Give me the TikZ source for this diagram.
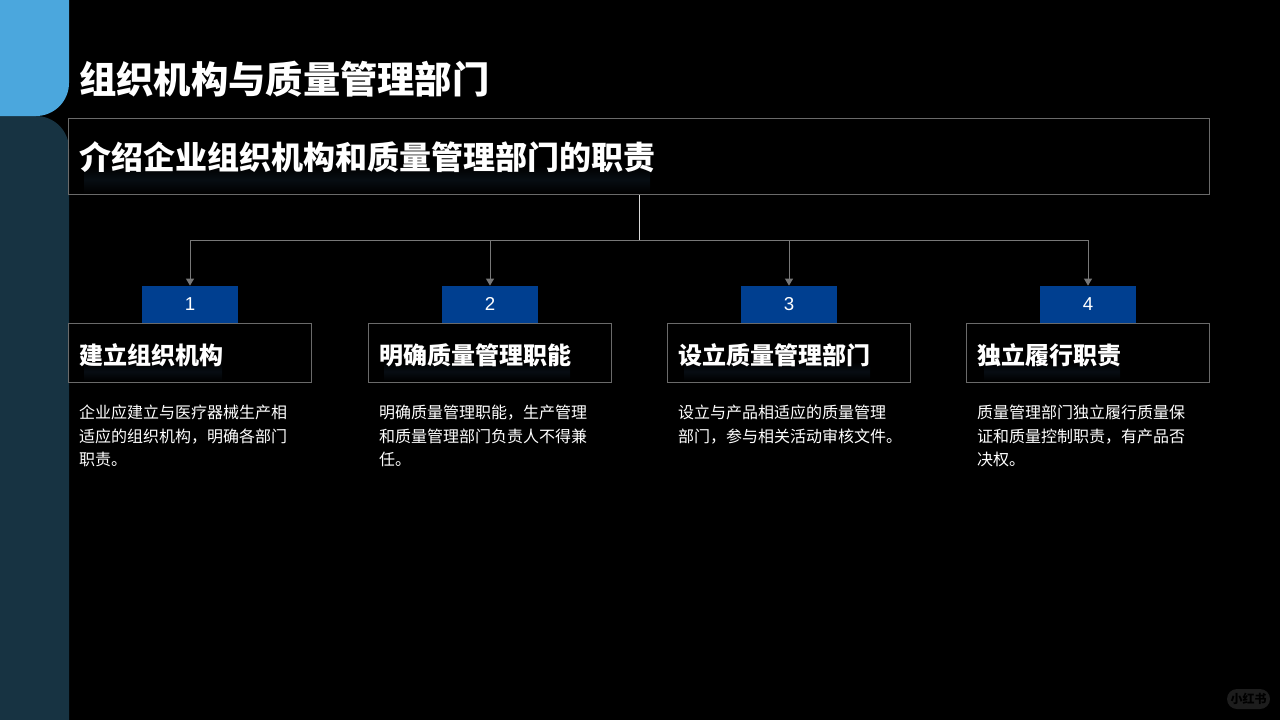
\documentclass[tikz,border=0pt]{standalone}
\usepackage{fontspec}
\setmainfont{Noto Sans CJK SC}
\newfontfamily\numfont{Liberation Sans}
\usetikzlibrary{arrows.meta}
\definecolor{panelblue}{HTML}{4BA7DD}
\definecolor{panelteal}{HTML}{173342}
\definecolor{numblue}{HTML}{003F90}
\definecolor{edgegray}{HTML}{6A6A6A}
\definecolor{linkgray}{HTML}{787878}
\definecolor{glowblue}{HTML}{070D13}
\definecolor{markgray}{HTML}{1D1D1D}
\tikzset{
  headbox/.style={draw=edgegray,line width=1pt,anchor=north west,inner xsep=11pt,inner ysep=0pt,align=left,text=white},
  numbox/.style={fill=numblue,minimum width=96pt,minimum height=37pt,inner sep=0pt,anchor=south,text=white,font=\numfont\fontsize{18.7}{24}\selectfont},
  bodytext/.style={anchor=north west,inner sep=0pt,align=left,text=white,font=\fontsize{16}{23.6}\selectfont},
  glowbar/.style={top color=black,bottom color=black,middle color=glowblue}
}
\begin{document}
\begin{tikzpicture}[line cap=butt,>={Triangle[length=7pt,width=8pt]},x=1pt,y=-1pt]
      \useasboundingbox (0,0) rectangle (1280,720);
      \fill[black] (0,0) rectangle (1280,720);
      % left panels
      \fill[panelteal] (0,116) [rounded corners=33pt] -- (69,116) [sharp corners] -- (69,720) -- (0,720) -- cycle;
      \fill[panelblue] (0,0) -- (69,0) [rounded corners=33pt] -- (69,116) [sharp corners] -- (0,116) -- cycle;
      % glow below the headings
      \shade[glowbar] (84,166) rectangle (650,193);
      \foreach \x/\w in {84/222,384/570,684/870,984/1120}
      \shade[glowbar] (\x,362) rectangle ({\w},381);
      % title
      \node[anchor=west,inner sep=0pt,text=white,font=\bfseries\fontsize{37.3}{44}\selectfont] (title) at (79,79.5) {组织机构与质量管理部门};
      \node[headbox,minimum height=76pt,text width=1119pt,font=\bfseries\fontsize{32}{38}\selectfont] (sub) at (68,118) {\raisebox{-1pt}[\height][\depth]{介绍企业组织机构和质量管理部门的职责}};
      % the four columns
      \foreach \i/\x/\head/\body in {
        1/68/建立组织机构/{企业应建立与医疗器械生产相\\适应的组织机构，明确各部门\\职责。},
        2/368/明确质量管理职能/{明确质量管理职能，生产管理\\和质量管理部门负责人不得兼\\任。},
        3/667/设立质量管理部门/{设立与产品相适应的质量管理\\部门，参与相关活动审核文件。},
        4/966/独立履行职责/{质量管理部门独立履行质量保\\证和质量控制职责，有产品否\\决权。}}
      {
        \node[headbox,minimum height=59pt,text width=221pt,font=\bfseries\fontsize{24}{28}\selectfont] (head\i) at (\x,323) {\raisebox{-2pt}[\height][\depth]{\head}};
        \node[numbox] (num\i) at (head\i.north) {\i};
        \node[bodytext] (body\i) at (\x+11,405) {\body};
      }
      % connectors
      \coordinate (bus) at (639,240);
      \foreach \i in {1,2,3,4}
      \draw[->,color=linkgray,line width=1pt] (bus) -| (num\i.north);
      \draw[color=white!85!black,line width=1pt] (sub.south -| bus) -- (bus);
      % corner mark
      \node[fill=markgray,rounded corners=10pt,minimum width=43pt,minimum height=20pt,inner sep=0pt,text=black,font=\bfseries\fontsize{12}{14}\selectfont] (mark) at (1248.5,699) {小红书};
    \end{tikzpicture}
\end{document}
